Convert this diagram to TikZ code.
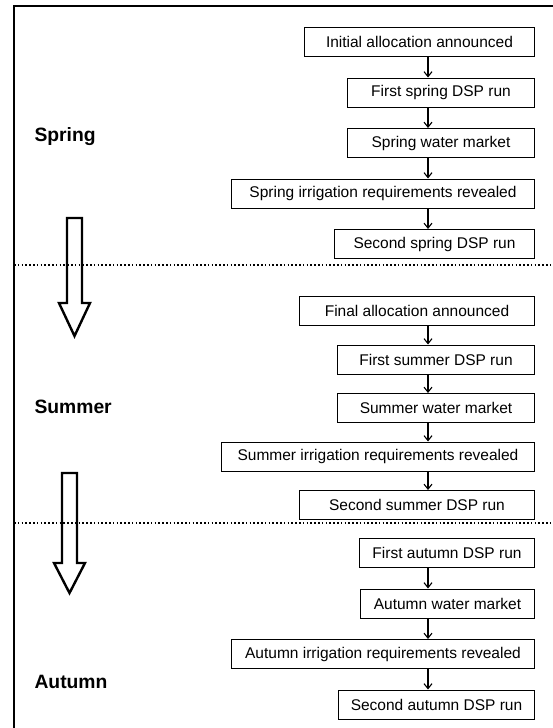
\documentclass[tikz,border=0pt]{standalone}
\usepackage{fontspec}
\setmainfont{Liberation Sans}
\usetikzlibrary{positioning,arrows.meta}

\begin{document}
\begin{tikzpicture}[x=1pt,y=-1pt,>={Straight Barb[length=5pt,width=8pt]},
  stage/.style={draw,line width=1pt,minimum height=29pt,inner sep=0pt,font=\fontsize{15.5}{18}\selectfont},
  season/.style={anchor=west,font=\fontsize{19.3}{22}\selectfont\bfseries},
  sep/.style={line width=1.6pt,dash pattern=on 1.6pt off 2.2pt},
  blockarrow/.style={line width=2.4pt,line join=miter},
  node distance=20.5pt]
\useasboundingbox (0,0) rectangle (553,728);
\draw[line width=1.8pt] (14,728) -- (14,6) -- (553,6);
\coordinate (ax) at (428,0);

% spring
\node[stage,minimum width=230pt,anchor=east] (s1) at (535,42) {Initial allocation announced};
\node[stage,minimum width=187pt,below=of s1.south east,anchor=north east] (s2) {First spring DSP run};
\node[stage,minimum width=187pt,below=of s2.south east,anchor=north east] (s3) {Spring water market};
\node[stage,minimum width=303pt,below=of s3.south east,anchor=north east] (s4) {Spring irrigation requirements revealed};
\node[stage,minimum width=200pt,below=of s4.south east,anchor=north east] (s5) {Second spring DSP run};

% summer
\begin{scope}[node distance=18.5pt]
\node[stage,minimum width=235pt,anchor=east] (u1) at (535,311) {Final allocation announced};
\node[stage,minimum width=197pt,below=of u1.south east,anchor=north east] (u2) {First summer DSP run};
\node[stage,minimum width=197pt,below=of u2.south east,anchor=north east] (u3) {Summer water market};
\node[stage,minimum width=313pt,below=of u3.south east,anchor=north east] (u4) {Summer irrigation requirements revealed};
\node[stage,minimum width=235pt,below=of u4.south east,anchor=north east] (u5) {Second summer DSP run};
\end{scope}

% autumn
\node[stage,minimum width=175pt,anchor=east] (a1) at (535,553) {First autumn DSP run};
\node[stage,minimum width=174pt,below=of a1.south east,anchor=north east] (a2) {Autumn water market};
\node[stage,minimum width=303pt,below=of a2.south east,anchor=north east] (a3) {Autumn irrigation requirements revealed};
\node[stage,minimum width=196pt,below=of a3.south east,anchor=north east] (a4) {Second autumn DSP run};

\foreach \a/\b in {s1/s2,s2/s3,s3/s4,s4/s5,u1/u2,u2/u3,u3/u4,u4/u5,a1/a2,a2/a3,a3/a4}
  \draw[->,line width=1.1pt] (\a.south -| ax) -- (\b.north -| ax);

% season labels and separators
\node[season] (spring) at (31,137) {Spring};
\node[season] (summer) at (31,407) {Summer};
\node[season] (autumn) at (31,682) {Autumn};
\draw[sep] (14,265) -- (553,265);
\draw[sep] (14,523) -- (553,523);

% block arrows
\draw[blockarrow] (67,218) -- (82,218) -- (82,303) -- (90,303) -- (74.5,336) -- (59,303) -- (67,303) -- cycle;
\draw[blockarrow] (62,473) -- (77,473) -- (77,563) -- (85,563) -- (69.5,593) -- (54,563) -- (62,563) -- cycle;
\end{tikzpicture}
\end{document}
